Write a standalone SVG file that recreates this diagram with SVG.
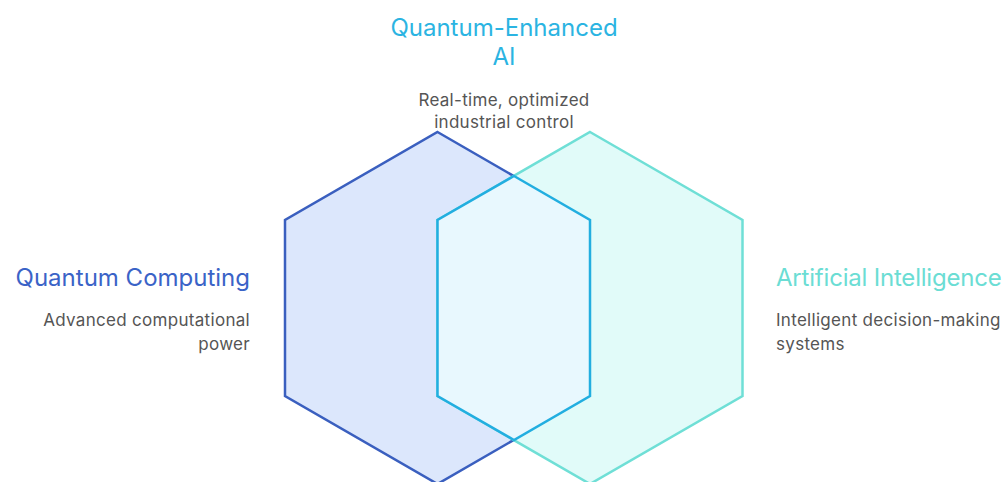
<svg xmlns="http://www.w3.org/2000/svg" width="1005" height="482" viewBox="0 0 1005 482">
<style>
.t{font-family:Inter,"Noto Sans",sans-serif;}
.h{font-size:24px;}
.s{font-size:17px;fill:#555555;letter-spacing:0.3px;}
</style>
<rect width="1005" height="482" fill="#ffffff"/>
<g id="quantum-computing">
<polygon points="437.5,132 590,220 590,396 437.5,484 285,396 285,220" fill="#dce7fc" stroke="#3a5fbf" stroke-width="2.5"/>
<text class="t h" x="250" y="286" text-anchor="end" fill="#3a63c7">Quantum Computing</text>
<text class="t s" x="250" y="326" text-anchor="end">Advanced computational</text>
<text class="t s" x="250" y="350" text-anchor="end">power</text>
</g>
<g id="artificial-intelligence">
<polygon points="590,132 742.5,220 742.5,396 590,484 437.5,396 437.5,220" fill="#e1fbf9" stroke="#6fdfd6" stroke-width="2.5"/>
<text class="t h" x="776" y="286" fill="#6bddd4" letter-spacing="-0.2">Artificial Intelligence</text>
<text class="t s" x="776" y="326">Intelligent decision-making</text>
<text class="t s" x="776" y="350">systems</text>
</g>
<g id="quantum-enhanced-ai">
<polygon points="514,176 590,220 590,396 514,440 437.5,396 437.5,220" fill="#e8f8fe" stroke="#22aee0" stroke-width="2.5"/>
<text class="t h" x="504" y="36" text-anchor="middle" fill="#2bb4e2">Quantum-Enhanced</text>
<text class="t h" x="504" y="65" text-anchor="middle" fill="#2bb4e2">AI</text>
<text class="t s" x="504" y="106" text-anchor="middle">Real-time, optimized</text>
<text class="t s" x="504" y="128" text-anchor="middle">industrial control</text>
</g>
<g id="connectors"></g>
</svg>
